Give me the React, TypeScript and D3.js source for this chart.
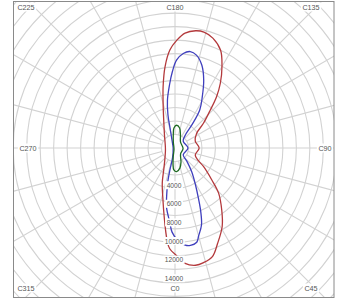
import React from 'react';
import * as d3 from 'd3';

// C-plane labels around the diagram, one every 45 degrees
const cLabels = ['C0', 'C45', 'C90', 'C135', 'C180', 'C225', 'C270', 'C315'];
// intensity labels (cd) along the C0 axis
const intensityTicks = [4000, 6000, 8000, 10000, 12000, 14000];

// curves: C angle (deg) and intensity (cd)
const redAngles = [1, 5, 10, 14, 19, 24, 31, 37, 44, 49, 57, 62, 71, 90, 109, 124, 131, 137, 141, 145, 150, 155, 161, 166, 170, 175, 179, 183, 187, 191, 196, 207, 219, 282, 330, 340, 347, 351, 355, 357];
const redValues = [11600, 12450, 12800, 12700, 12350, 11250, 9850, 8350, 6750, 5250, 3650, 2800, 2300, 2600, 2300, 2800, 4050, 5550, 7100, 8500, 10100, 11600, 12500, 12850, 12800, 12400, 11600, 10550, 8800, 6700, 4600, 2600, 1800, 1050, 2350, 4000, 5750, 7450, 9900, 10850];

const blueAngles = [2, 6, 9, 13, 15, 19, 22, 25, 29, 35, 42, 50, 90, 130, 142, 144, 147, 152, 157, 162, 167, 171, 175, 179, 182, 185, 189, 192, 194, 201, 270, 346, 347, 348, 350, 352, 356, 358];
const blueValues = [10000, 10500, 10600, 10400, 9800, 8750, 7400, 5950, 4550, 3150, 1900, 1150, 1400, 1150, 1900, 3200, 4900, 6250, 7900, 9350, 10250, 10500, 10200, 9450, 8200, 6800, 5200, 3650, 2200, 900, 200, 1100, 2400, 3750, 5150, 6500, 8000, 9050];

const greenAngles = [4, 14, 23, 43, 86, 138, 157, 167, 176, 183, 187, 196, 315, 348, 353, 357];
const greenValues = [2550, 2200, 1650, 880, 870, 880, 1500, 2200, 2450, 2150, 1500, 650, 150, 900, 1750, 2350];

const W = 342, H = 299;
const frame = { x0: 13.5, y0: 1.5, x1: 334, y1: 297.5 };
const cx = 175, cy = 148;
const font = 'Liberation Sans, Arial, sans-serif';

export default function App() {
  const r = d3.scaleLinear().domain([0, 15000]).range([0, 139.5]);
  const ringStep = 1450;
  const rings = d3.range(ringStep, 25000, ringStep);
  const spokes = d3.range(0, 360, 15);
  const toA = (c: number) => ((180 - c) * Math.PI) / 180;

  const line = d3
    .lineRadial<[number, number]>()
    .angle(d => toA(d[0]))
    .radius(d => r(d[1]))
    .curve(d3.curveCatmullRomClosed.alpha(0.5));

  const series = [
    { color: '#b3393c', pts: redAngles.map((a, i) => [a, redValues[i]] as [number, number]) },
    { color: '#3f3fbd', pts: blueAngles.map((a, i) => [a, blueValues[i]] as [number, number]) },
    { color: '#1e6a22', pts: greenAngles.map((a, i) => [a, greenValues[i]] as [number, number]) },
  ];

  const clamp = (v: number, lo: number, hi: number) => Math.max(lo, Math.min(hi, v));
  const cLabelPos = cLabels.map((t, i) => {
    const c = (i * 45 * Math.PI) / 180;
    const diag = i % 2 === 1;
    const x = clamp(cx + Math.sin(c) * 1000, diag ? 26 : 28, diag ? 311 : 325);
    const y = clamp(cy + Math.cos(c) * 1000, 7, 288);
    return { t, x: Math.abs(Math.sin(c)) < 1e-6 ? cx : x, y: Math.abs(Math.cos(c)) < 1e-6 ? cy : y };
  });

  return (
    <svg width={W} height={H} style={{ position: 'absolute', left: 0, top: 0, background: '#fff' }}>
      <defs>
        <clipPath id="frameClip">
          <rect x={frame.x0} y={frame.y0} width={frame.x1 - frame.x0} height={frame.y1 - frame.y0} />
        </clipPath>
      </defs>
      <rect x={0} y={0} width={W} height={H} fill="#fff" />
      <g clipPath="url(#frameClip)">
        {rings.map(v => (
          <circle key={v} cx={cx} cy={cy} r={r(v)} fill="none" stroke="#d2d2d2" strokeWidth={1.1} />
        ))}
        {spokes.map(s => {
          const c = (s * Math.PI) / 180;
          return (
            <line
              key={s}
              x1={cx + Math.sin(c) * r(ringStep)}
              y1={cy + Math.cos(c) * r(ringStep)}
              x2={cx + Math.sin(c) * r(26000)}
              y2={cy + Math.cos(c) * r(26000)}
              stroke="#d2d2d2"
              strokeWidth={1.1}
            />
          );
        })}
        <g transform={`translate(${cx},${cy})`}>
          {series.map((s, i) => (
            <path key={i} d={line(s.pts) || ''} fill="none" stroke={s.color} strokeWidth={1.3} />
          ))}
        </g>
        {intensityTicks.map(v => {
          const t = String(v);
          const w = t.length * 3.7 + 3;
          const y = cy + r(v);
          return (
            <g key={v}>
              <rect x={cx - 1 - w / 2} y={y - 4} width={w} height={8} fill="#fff" />
              <text x={cx - 1} y={y} fontSize={6.6} fontFamily={font} fill="#555" textAnchor="middle" dominantBaseline="central">
                {t}
              </text>
            </g>
          );
        })}
        {cLabelPos.map(p => {
          const w = p.t.length * 4.1 + 4;
          return (
            <g key={p.t}>
              <rect x={p.x - w / 2} y={p.y - 4.5} width={w} height={9} fill="#fff" />
              <text x={p.x} y={p.y} fontSize={7.2} fontFamily={font} fill="#555" textAnchor="middle" dominantBaseline="central">
                {p.t}
              </text>
            </g>
          );
        })}
      </g>
      <rect x={frame.x0} y={frame.y0} width={frame.x1 - frame.x0} height={frame.y1 - frame.y0} fill="none" stroke="#8a8a8a" strokeWidth={1} />
    </svg>
  );
}
